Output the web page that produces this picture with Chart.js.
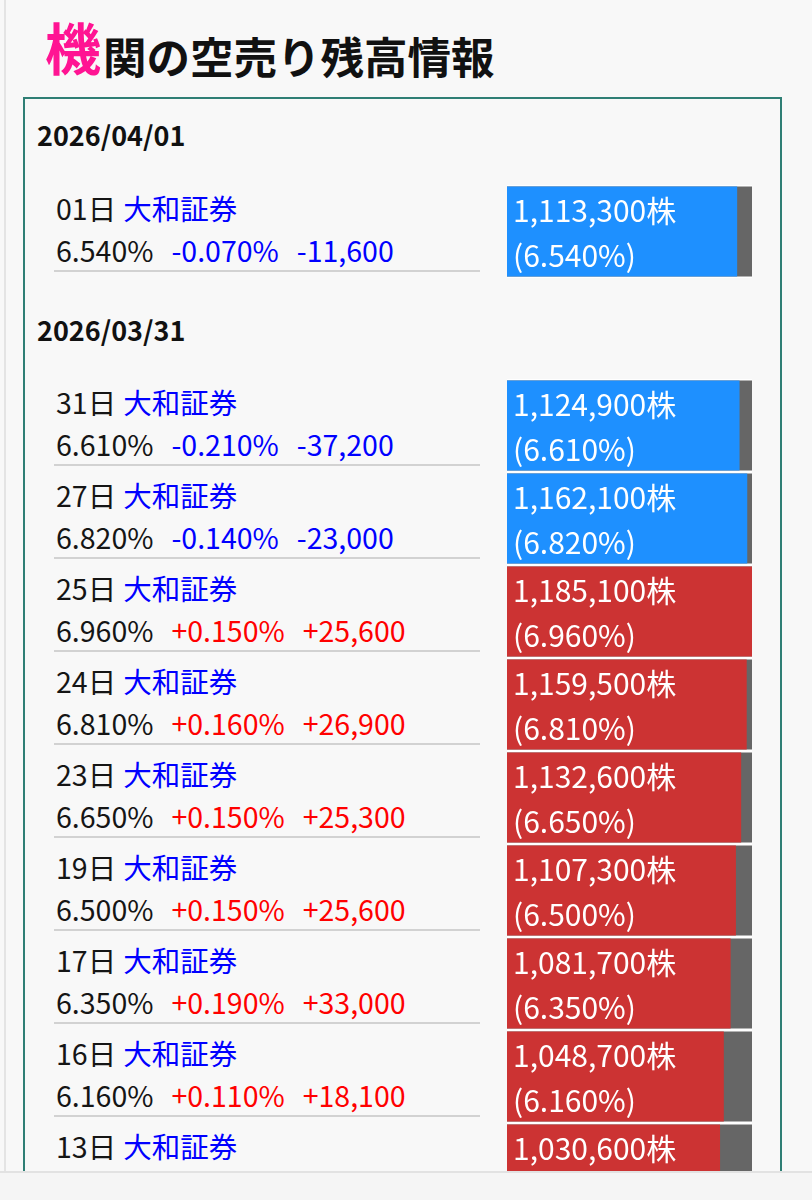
<!DOCTYPE html>
<html lang="ja">
<head>
<meta charset="utf-8">
<script src="https://cdn.jsdelivr.net/npm/chart.js@4.4.1/dist/chart.umd.min.js"></script>
<style>
html,body{margin:0;padding:0;}
body{width:812px;height:1200px;overflow:hidden;background:#f8f8f8;font-family:"Noto Sans CJK JP","Noto Sans",sans-serif;position:relative;color:#151515;}
.abs{position:absolute;white-space:nowrap;}
#edge{left:4px;top:0;width:2px;height:1200px;background:#e4e4e4;}
.ttl{font-weight:bold;height:50px;line-height:50px;}
#t1{left:45px;top:21px;font-size:56px;color:#ff1493;}
#t2{left:103px;top:31px;font-size:43.5px;color:#111;}
#frame{left:23px;top:97px;width:755px;height:1200px;border:2px solid #2f7f75;border-bottom:none;}
.date{left:37px;font-weight:bold;font-size:27px;height:40px;line-height:40px;color:#111;}
.line{left:56px;font-size:28.5px;height:40px;line-height:40px;}
.sep{left:54px;width:426px;height:2px;background:#d2d2d2;}
.bars{left:507px;width:245px;background:#fff;}
.blue{color:#0000ff;}
.red{color:#ff0000;}
.gap1{margin-left:7px;}
.gap2{margin-left:18px;}
#bottom{left:0;top:1171px;width:812px;height:29px;background:#f5f5f5;border-top:2px solid #e2e2e2;z-index:10;}
</style>
</head>
<body>
<div id="edge" class="abs"></div>
<div id="t1" class="abs ttl">機</div>
<div id="t2" class="abs ttl">関の空売り残高情報</div>
<div id="frame" class="abs"></div>
<div id="content"></div>
<div id="bottom" class="abs"></div>
<script>
// ---- data ----
const groupDates = ['2026/04/01', '2026/03/31'];
const groupSizes = [1, 9];
const days = ['01日', '31日', '27日', '25日', '24日', '23日', '19日', '17日', '16日', '13日'];
const brokers = ['大和証券', '大和証券', '大和証券', '大和証券', '大和証券', '大和証券', '大和証券', '大和証券', '大和証券', '大和証券'];
const ratios = [6.540, 6.610, 6.820, 6.960, 6.810, 6.650, 6.500, 6.350, 6.160, 6.050];
const ratioChanges = [-0.070, -0.210, -0.140, 0.150, 0.160, 0.150, 0.150, 0.190, 0.110, 0.100];
const shareChanges = [-11600, -37200, -23000, 25600, 26900, 25300, 25600, 33000, 18100, 17000];
const shares = [1113300, 1124900, 1162100, 1185100, 1159500, 1132600, 1107300, 1081700, 1048700, 1030600];

// ---- layout ----
const groupHeaderCenters = [136.5, 332];
const groupBarTops = [186, 380];
const ROW = 93, BAR = 90;
const maxShare = Math.max(...shares);
const fmt = n => n.toLocaleString('en-US');
const fmtPct = v => v.toFixed(3) + '%';
const signed = (v, s) => (v > 0 ? '+' : '') + s;

const content = document.getElementById('content');
function addDiv(cls, top, html, style) {
  const d = document.createElement('div');
  d.className = 'abs ' + cls;
  d.style.top = top + 'px';
  if (style) Object.assign(d.style, style);
  d.innerHTML = html;
  content.appendChild(d);
  return d;
}

const barLabelPlugin = {
  id: 'barLabels',
  afterDatasetsDraw(chart) {
    const ctx = chart.ctx;
    const meta = chart.getDatasetMeta(0);
    const off = chart.options.plugins.barLabels.offset;
    ctx.save();
    ctx.fillStyle = '#ffffff';
    ctx.font = '30px "Noto Sans CJK JP", sans-serif';
    ctx.textBaseline = 'alphabetic';
    ctx.textAlign = 'left';
    meta.data.forEach((el, i) => {
      const k = off + i;
      const top = el.y - el.height / 2;
      const x = el.base + 6;
      ctx.fillText(fmt(shares[k]) + '株', x, top + 35.5);
      ctx.fillText('(' + fmtPct(ratios[k]) + ')', x, top + 80.5);
    });
    ctx.restore();
  }
};

let offset = 0;
groupDates.forEach((date, g) => {
  const n = groupSizes[g];
  addDiv('date', groupHeaderCenters[g] - 22, date);
  const barTop = groupBarTops[g];
  for (let i = 0; i < n; i++) {
    const k = offset + i;
    const rt = barTop + i * ROW;
    const cls = shareChanges[k] < 0 ? 'blue' : 'red';
    addDiv('line', rt + 1.5, days[k] + '<span class="blue gap1">' + brokers[k] + '</span>');
    addDiv('line', rt + 44, fmtPct(ratios[k]) +
      '<span class="' + cls + ' gap2">' + signed(ratioChanges[k], fmtPct(ratioChanges[k])) + '</span>' +
      '<span class="' + cls + ' gap2">' + signed(shareChanges[k], fmt(shareChanges[k])) + '</span>');
    addDiv('sep', rt + 84, '');
  }
  const wrap = addDiv('bars', barTop - (ROW - BAR) / 2, '', { height: (n * ROW) + 'px' });
  const cv = document.createElement('canvas');
  wrap.appendChild(cv);
  const sl = shares.slice(offset, offset + n);
  const colors = shareChanges.slice(offset, offset + n).map(v => v < 0 ? '#1e90ff' : '#cc3333');
  new Chart(cv, {
    type: 'bar',
    data: {
      labels: days.slice(offset, offset + n),
      datasets: [
        { label: '残高', data: sl, backgroundColor: colors, grouped: false, order: 0,
          barPercentage: BAR / ROW, categoryPercentage: 1, borderWidth: 0 },
        { label: '最大', data: sl.map(() => maxShare), backgroundColor: '#666666', grouped: false, order: 1,
          barPercentage: BAR / ROW, categoryPercentage: 1, borderWidth: 0 }
      ]
    },
    options: {
      indexAxis: 'y',
      responsive: true,
      maintainAspectRatio: false,
      animation: false,
      layout: { padding: 0 },
      scales: {
        x: { display: false, min: 0, max: maxShare },
        y: { display: false }
      },
      plugins: { legend: { display: false }, tooltip: { enabled: false }, barLabels: { offset: offset } }
    },
    plugins: [barLabelPlugin]
  });
  offset += n;
});
</script>
</body>
</html>
